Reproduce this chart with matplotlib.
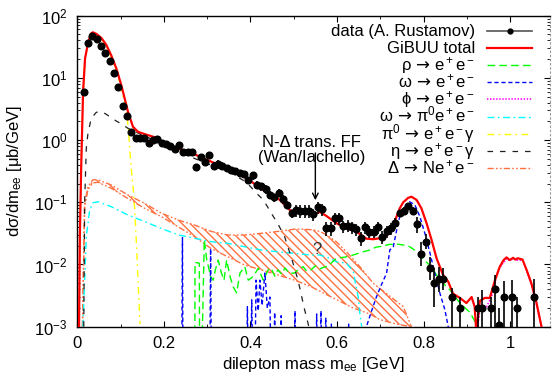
import matplotlib
matplotlib.use("Agg")
import matplotlib.pyplot as plt
import numpy as np
from matplotlib.lines import Line2D
from matplotlib.ticker import MultipleLocator, LogLocator, NullFormatter

plt.rcParams['font.family'] = ['Liberation Sans', 'DejaVu Sans']
plt.rcParams['mathtext.fontset'] = 'custom'
plt.rcParams['mathtext.rm'] = 'Liberation Sans'
plt.rcParams['mathtext.it'] = 'Liberation Sans:italic'
plt.rcParams['mathtext.bf'] = 'Liberation Sans:bold'
plt.rcParams['mathtext.sf'] = 'DejaVu Sans'
plt.rcParams['lines.scale_dashes'] = False
plt.rcParams['hatch.linewidth'] = 1.0

OFF = 1e-5  # below the plotted range: draws a drop to the axis

# ---- HADES C+C data (A. Rustamov) ----
data_m = [0.015, 0.025, 0.035, 0.045, 0.055, 0.065, 0.075, 0.085, 0.095, 0.105,
          0.115, 0.125, 0.135, 0.145, 0.155, 0.165, 0.175, 0.185, 0.195, 0.205,
          0.215, 0.225, 0.235, 0.245, 0.255, 0.265, 0.275, 0.285, 0.295, 0.305,
          0.315, 0.325, 0.335, 0.345, 0.355, 0.365, 0.375, 0.385, 0.395, 0.405,
          0.415, 0.425, 0.435, 0.445, 0.455, 0.465, 0.475, 0.485, 0.495, 0.505,
          0.515, 0.525, 0.535, 0.545, 0.555, 0.565, 0.575, 0.585, 0.595, 0.605,
          0.615, 0.625, 0.635, 0.645, 0.655, 0.665, 0.675, 0.685, 0.695, 0.705,
          0.715, 0.725, 0.735, 0.745, 0.755, 0.765, 0.775, 0.785, 0.795, 0.805,
          0.815, 0.825, 0.835, 0.845, 0.865, 0.885, 0.925, 0.935, 0.955, 0.965,
          0.975, 0.985, 1.005, 1.015, 1.055]
data_xs = [5.9, 37.0, 47.7, 41.7, 33.0, 24.8, 18.7, 12.0, 7.1, 3.57,
           2.41, 1.36, 1.09, 1.10, 1.09, 0.89, 1.0, 1.03, 0.90, 0.86,
           0.80, 0.72, 0.84, 0.65, 0.65, 0.65, 0.37, 0.54, 0.45, 0.575,
           0.39, 0.42, 0.39, 0.36, 0.33, 0.32, 0.30, 0.285, 0.23, 0.27,
           0.19, 0.18, 0.162, 0.131, 0.12, 0.143, 0.112, 0.0905, 0.0665, 0.075,
           0.073, 0.073, 0.073, 0.065, 0.083, 0.078, 0.038, 0.038, 0.055, 0.055,
           0.041, 0.042, 0.040, 0.037, 0.0267, 0.040, 0.0337, 0.0337, 0.040, 0.028,
           0.034, 0.038, 0.046, 0.0665, 0.073, 0.087, 0.073, 0.045, 0.0148, 0.023,
           0.0088, 0.005, 0.0059, 0.0059, 0.003, 0.002, 0.002, 0.002, 0.002, 0.004,
           0.00105, 0.003, 0.003, 0.002, 0.003]
# relative errors (lower / upper)
data_rel_lo = [0.03, 0.03, 0.03, 0.03, 0.03, 0.03, 0.03, 0.03, 0.03, 0.03,
               0.03, 0.03, 0.07, 0.07, 0.07, 0.07, 0.07, 0.07, 0.07, 0.07,
               0.07, 0.07, 0.07, 0.07, 0.07, 0.07, 0.12, 0.12, 0.12, 0.12,
               0.12, 0.12, 0.12, 0.12, 0.12, 0.12, 0.12, 0.12, 0.12, 0.15,
               0.15, 0.15, 0.15, 0.15, 0.15, 0.15, 0.15, 0.15, 0.15, 0.22,
               0.22, 0.22, 0.22, 0.22, 0.22, 0.22, 0.25, 0.25, 0.22, 0.22,
               0.22, 0.22, 0.22, 0.22, 0.25, 0.22, 0.22, 0.22, 0.22, 0.25,
               0.22, 0.22, 0.2, 0.13, 0.13, 0.13, 0.13, 0.28, 0.37, 0.24,
               0.36, 0.59, 0.38, 0.34, 1.0, 1.0, 1.0, 1.0, 1.0, 1.0,
               1.0, 1.0, 1.0, 1.0, 1.0]
data_rel_hi = [0.03, 0.03, 0.03, 0.03, 0.03, 0.03, 0.03, 0.03, 0.03, 0.03,
               0.03, 0.03, 0.07, 0.07, 0.07, 0.07, 0.07, 0.07, 0.07, 0.07,
               0.07, 0.07, 0.07, 0.07, 0.07, 0.07, 0.12, 0.12, 0.12, 0.12,
               0.12, 0.12, 0.12, 0.12, 0.12, 0.12, 0.12, 0.12, 0.12, 0.15,
               0.15, 0.15, 0.15, 0.15, 0.15, 0.15, 0.15, 0.15, 0.15, 0.22,
               0.22, 0.22, 0.22, 0.22, 0.22, 0.22, 0.25, 0.25, 0.22, 0.22,
               0.22, 0.22, 0.22, 0.22, 0.25, 0.22, 0.22, 0.22, 0.22, 0.25,
               0.22, 0.22, 0.2, 0.13, 0.13, 0.13, 0.13, 0.28, 0.58, 0.32,
               0.52, 0.74, 0.56, 0.47, 0.40, 0.52, 0.52, 0.95, 0.52, 0.70,
               0.9, 0.78, 0.87, 0.52, 0.93]

# ---- GiBUU total ----
tot_m = [0.004, 0.006, 0.009, 0.0134, 0.018, 0.025, 0.032, 0.036, 0.044, 0.0555,
         0.067, 0.0785, 0.090, 0.1016, 0.1094, 0.117, 0.1286, 0.140, 0.1556, 0.179,
         0.2018, 0.2326, 0.271, 0.3095, 0.348, 0.391, 0.4296, 0.468, 0.491, 0.507,
         0.53, 0.545, 0.5605, 0.576, 0.599, 0.622, 0.645, 0.668, 0.684, 0.707,
         0.722, 0.730, 0.738, 0.745, 0.753, 0.7645, 0.772, 0.784, 0.795, 0.807,
         0.8185, 0.830, 0.845, 0.857, 0.868, 0.884, 0.899, 0.911, 0.918, 0.922,
         0.93, 0.9415, 0.953, 0.965, 0.976, 0.985, 0.9917, 0.999, 1.007, 1.012,
         1.018, 1.0286, 1.038, 1.049, 1.061, 1.0725]
tot_xs = [0.001, 0.03, 0.36, 6.0, 20.6, 37.0, 52.0, 54.0, 51.0, 44.0,
          34.0, 23.0, 14.3, 7.7, 4.7, 2.87, 1.64, 1.36, 1.25, 1.11,
          0.91, 0.74, 0.59, 0.45, 0.35, 0.243, 0.158, 0.109, 0.075, 0.068,
          0.065, 0.063, 0.070, 0.060, 0.046, 0.038, 0.0337, 0.026, 0.0255, 0.027,
          0.032, 0.042, 0.060, 0.080, 0.100, 0.118, 0.123, 0.109, 0.080, 0.046,
          0.0248, 0.0126, 0.0068, 0.0053, 0.0034, 0.0029, 0.0024, 0.003, 0.0021, 0.0008,
          0.0026, 0.0029, 0.0029, 0.0056, 0.0092, 0.0118, 0.0130, 0.0118, 0.0128, 0.0120,
          0.0126, 0.0120, 0.0082, 0.005, 0.0024, 0.001]

# ---- rho -> e+e- ----
rho_m = [0.271, 0.272, 0.282, 0.283, 0.2935, 0.299, 0.303, 0.308, 0.314, 0.319,
         0.3256, 0.333, 0.339, 0.345, 0.353, 0.36, 0.368, 0.376, 0.387, 0.395,
         0.4065, 0.418, 0.4296, 0.441, 0.448, 0.456, 0.4635, 0.472, 0.48, 0.49,
         0.502, 0.512, 0.522, 0.53, 0.54, 0.55, 0.56, 0.579, 0.599, 0.62,
         0.6375, 0.66, 0.676, 0.69, 0.707, 0.72, 0.738, 0.755, 0.768, 0.785,
         0.799, 0.815, 0.83, 0.845, 0.861, 0.884, 0.907, 0.922, 0.925]
rho_xs = [OFF, 0.0108, 0.0105, OFF, 0.025, 0.012, 0.0092, 0.0064, 0.0056, 0.0082,
          0.0118, 0.0073, 0.0056, 0.0118, 0.0064, 0.0044, 0.0035, 0.0073, 0.0092, 0.0056,
          0.0064, 0.0087, 0.0056, 0.0082, 0.0087, 0.0065, 0.0082, 0.0070, 0.0088, 0.0072,
          0.0073, 0.0085, 0.0092, 0.0078, 0.0082, 0.0095, 0.0085, 0.0095, 0.0126, 0.0132,
          0.0142, 0.016, 0.0171, 0.019, 0.0198, 0.021, 0.0213, 0.0205, 0.0193, 0.016,
          0.0125, 0.0095, 0.0068, 0.005, 0.0039, 0.0024, 0.0017, 0.0011, OFF]

# ---- omega -> e+e- ----
omg_m = [0.240, 0.243, 0.245, 0.305, 0.308, 0.311, 0.389, 0.393, 0.398, 0.403,
         0.408, 0.413, 0.418, 0.422, 0.427, 0.4335, 0.439, 0.445, 0.450, 0.456,
         0.462, 0.471, 0.478, 0.498, 0.503, 0.508, 0.548, 0.553, 0.558, 0.563,
         0.568, 0.574, 0.582, 0.587, 0.592, 0.622, 0.627, 0.632, 0.668, 0.68,
         0.691, 0.703, 0.7145, 0.722, 0.73, 0.738, 0.745, 0.757, 0.768, 0.78,
         0.7915, 0.803, 0.815, 0.826, 0.838, 0.849, 0.857, 0.862]
omg_xs = [OFF, 0.027, OFF, OFF, 0.018, OFF, OFF, 0.0021, OFF, 0.0027,
          OFF, 0.0056, 0.0018, 0.0056, 0.0022, 0.0073, 0.0020, 0.003, OFF, 0.0017,
          OFF, 0.0015, OFF, OFF, 0.0018, OFF, OFF, 0.0016, OFF, 0.0018,
          OFF, 0.0014, OFF, 0.0011, OFF, OFF, 0.0011, OFF, 0.001, 0.0018,
          0.003, 0.0048, 0.0072, 0.0171, 0.0193, 0.036, 0.0588, 0.085, 0.102, 0.0905,
          0.0588, 0.0317, 0.0151, 0.0072, 0.0034, 0.0019, 0.001, OFF]

# ---- phi -> e+e- ----
phi_m = [0.925, 0.93, 0.9455, 0.957, 0.965, 0.976, 0.9917, 0.999, 1.007, 1.018,
         1.0286, 1.038, 1.049, 1.061, 1.0725]
phi_xs = [0.001, 0.0019, 0.0021, 0.003, 0.0053, 0.009, 0.0124, 0.0116, 0.0124, 0.0116,
          0.0118, 0.008, 0.0049, 0.0023, 0.001]

# ---- omega -> pi0 e+e- ----
opi_m = [0.013, 0.0208, 0.0286, 0.036, 0.048, 0.0785, 0.117, 0.1556, 0.194, 0.2326,
         0.271, 0.3095, 0.348, 0.3866, 0.425, 0.4635, 0.502, 0.54, 0.56, 0.584,
         0.599, 0.622, 0.6375, 0.649, 0.653, 0.657]
opi_xs = [0.001, 0.028, 0.075, 0.098, 0.102, 0.085, 0.0625, 0.049, 0.038, 0.030,
          0.0264, 0.0233, 0.0219, 0.0193, 0.0171, 0.016, 0.0151, 0.0142, 0.0142, 0.0126,
          0.011, 0.0105, 0.0077, 0.003, 0.0016, 0.001]

# ---- pi0 -> e+e-gamma ----
pi0_m = [0.004, 0.006, 0.009, 0.0134, 0.018, 0.025, 0.032, 0.036, 0.044, 0.0555,
         0.067, 0.0785, 0.090, 0.098, 0.1094, 0.1155, 0.1187, 0.121, 0.125, 0.129,
         0.133, 0.137, 0.141, 0.1447]
pi0_xs = [0.001, 0.029, 0.35, 5.8, 20.0, 36.0, 50.5, 52.5, 49.5, 42.5,
          32.5, 21.5, 13.0, 7.7, 4.1, 2.24, 1.36, 0.74, 0.33, 0.17,
          0.07, 0.019, 0.0044, 0.0011]

# ---- eta -> e+e-gamma ----
eta_m = [0.015, 0.017, 0.0208, 0.0247, 0.0323, 0.044, 0.0555, 0.067, 0.0785, 0.090,
         0.1016, 0.117, 0.14, 0.17, 0.2, 0.25, 0.3, 0.357, 0.391, 0.414,
         0.43, 0.453, 0.4635, 0.479, 0.494, 0.51, 0.525, 0.535]
eta_xs = [0.001, 0.1, 0.74, 1.29, 2.24, 2.8, 2.87, 2.6, 2.29, 2.03,
          1.82, 1.55, 1.3, 1.05, 0.82, 0.58, 0.42, 0.29, 0.21, 0.14,
          0.109, 0.059, 0.045, 0.028, 0.0133, 0.0056, 0.0019, 0.001]

# ---- Delta -> N e+e- : band from two form-factor choices ----
dhi_m = [0.012, 0.017, 0.0247, 0.036, 0.048, 0.0785, 0.117, 0.1556, 0.194, 0.2326,
         0.271, 0.3095, 0.348, 0.3866, 0.425, 0.4635, 0.502, 0.522, 0.545, 0.56,
         0.576, 0.599, 0.622, 0.653, 0.6836, 0.7145, 0.753, 0.772]
dhi_xs = [0.001, 0.096, 0.178, 0.23, 0.23, 0.19, 0.131, 0.096, 0.067, 0.052,
          0.043, 0.034, 0.0298, 0.0298, 0.0317, 0.034, 0.037, 0.037, 0.036, 0.034,
          0.030, 0.023, 0.016, 0.0092, 0.005, 0.0034, 0.0021, 0.001]
dlo_m = [0.012, 0.017, 0.0247, 0.036, 0.048, 0.0785, 0.117, 0.1556, 0.194, 0.2326,
         0.271, 0.3095, 0.348, 0.3866, 0.425, 0.4635, 0.502, 0.54, 0.579, 0.6375,
         0.676, 0.699, 0.738, 0.772]
dlo_xs = [0.001, 0.085, 0.16, 0.205, 0.21, 0.168, 0.115, 0.08, 0.059, 0.0405,
          0.028, 0.018, 0.0133, 0.0098, 0.0082, 0.0068, 0.0056, 0.0044, 0.0032, 0.002,
          0.0016, 0.0013, 0.0011, 0.001]

x_ticks = [0, 0.2, 0.4, 0.6, 0.8, 1]
x_ticklabels = ['0', '0.2', '0.4', '0.6', '0.8', '1']

C_RED = '#ff0000'
C_GREEN = '#00ff00'
C_BLUE = '#0000ff'
C_MAG = '#ff00ff'
C_CYAN = '#00ffff'
C_YEL = '#ffff00'
C_ETA = '#202020'
C_DEL = '#ff7040'

fig = plt.figure(figsize=(5.52, 3.79), dpi=100)
ax = fig.add_axes([0.1400, 0.1380, 0.8563, 0.8206])
ax.set_yscale('log')
ax.set_xlim(0, 1.092)
ax.set_ylim(1e-3, 1e2)

# Delta band: hatched polygon between the two curves
band_x = np.concatenate([dhi_m, dlo_m[::-1]])
band_y = np.concatenate([dhi_xs, dlo_xs[::-1]])
ax.fill(band_x, band_y, facecolor='none', edgecolor=C_DEL, hatch='\\\\\\\\',
        linewidth=0, zorder=1)
dd = (0, (4.5, 1.6, 1.2, 1.6, 1.2, 1.6))
ax.plot(dhi_m, dhi_xs, color=C_DEL, lw=1.0, linestyle=dd, zorder=2)
ax.plot(dlo_m, dlo_xs, color=C_DEL, lw=1.0, linestyle=dd, zorder=2)

ax.plot(opi_m, opi_xs, color=C_CYAN, lw=1.0, linestyle=(0, (5, 2.5, 1.2, 2.5)), zorder=3)
ax.plot(rho_m, rho_xs, color=C_GREEN, lw=1.0, linestyle=(0, (5.5, 3)), zorder=3)
ax.plot(omg_m, omg_xs, color=C_BLUE, lw=1.0, linestyle=(0, (3, 2)), zorder=3)
ax.plot(phi_m, phi_xs, color=C_MAG, lw=1.2, linestyle=(0, (1, 1.2)), zorder=3)
ax.plot(eta_m, eta_xs, color=C_ETA, lw=0.9, linestyle=(0, (4, 5)), zorder=3)
ax.plot(pi0_m, pi0_xs, color=C_YEL, lw=1.0, linestyle=(0, (5, 3, 1.2, 3)), zorder=3)
ax.plot(tot_m, tot_xs, color=C_RED, lw=1.6, zorder=4)

ys = np.array(data_xs)
err = [ys * np.array(data_rel_lo), ys * np.array(data_rel_hi)]
ax.errorbar(data_m, data_xs, yerr=err, fmt='o', color='black', ms=4.8,
            elinewidth=1.2, capsize=0, zorder=5)

# annotation for the transition form factor
ax.text(0.542, 0.78, 'N-Δ trans. FF', ha='center', va='baseline', fontsize=12)
ax.text(0.542, 0.44, '(Wan/Iachello)', ha='center', va='baseline', fontsize=12)
ax.annotate('', xy=(0.550, 0.108), xytext=(0.550, 0.62),
            arrowprops=dict(arrowstyle='->', color='black', lw=1.0,
                            shrinkA=0, shrinkB=0))
ax.text(0.553, 0.0175, '?', ha='center', va='center', fontsize=12, color='#333333')

# axes styling
ax.set_xticks(x_ticks)
ax.set_xticklabels(x_ticklabels)
ax.xaxis.set_minor_locator(MultipleLocator(0.1))
ax.yaxis.set_major_locator(LogLocator(base=10, numticks=10))
ax.yaxis.set_minor_locator(LogLocator(base=10, subs=np.arange(2, 10), numticks=20))
ax.yaxis.set_minor_formatter(NullFormatter())
ax.tick_params(which='both', direction='in', top=True, right=True, labelsize=12)
ax.tick_params(which='major', length=4.5, width=0.8)
ax.tick_params(which='minor', length=2.2, width=0.6)
ax.tick_params(axis='x', which='both', pad=7)
ax.tick_params(axis='y', which='both', pad=7)
for t in ax.yaxis.get_ticklines(minor=False)[1::2]:
    t.set_color('#888888')
for t in ax.yaxis.get_ticklines(minor=True)[1::2]:
    t.set_color('#888888')
ax.spines['right'].set_color('#999999')
ax.spines['right'].set_linestyle((0, (1, 2)))
for s in ('left', 'top', 'bottom'):
    ax.spines[s].set_linewidth(1.0)

ax.set_xlabel('dilepton mass m$_{\\mathrm{ee}}$ [GeV]', fontsize=12)
ax.set_ylabel('dσ/dm$_{\\mathrm{ee}}$ [μb/GeV]', fontsize=12)
ax.xaxis.set_label_coords(0.5, -0.090)
ax.yaxis.set_label_coords(-0.112, 0.5)

# key, drawn in axes coordinates
ARW = '$\\,\\mathsf{\\rightarrow}\\,$'
labels = ['data (A. Rustamov)', 'GiBUU total',
          'ρ' + ARW + 'e$^+$e$^-$',
          'ω' + ARW + 'e$^+$e$^-$',
          'ϕ' + ARW + 'e$^+$e$^-$',
          'ω' + ARW + 'π$^0$e$^+$e$^-$',
          'π$^0$' + ARW + 'e$^+$e$^-$γ',
          'η' + ARW + 'e$^+$e$^-$γ',
          'Δ' + ARW + 'Ne$^+$e$^-$']
styles = [dict(color='#555555', lw=1.2, ls='-'),
          dict(color=C_RED, lw=1.6, ls='-'),
          dict(color=C_GREEN, lw=1.0, ls=(0, (5.5, 3))),
          dict(color=C_BLUE, lw=1.0, ls=(0, (3, 2))),
          dict(color=C_MAG, lw=1.2, ls=(0, (1, 1.2))),
          dict(color=C_CYAN, lw=1.0, ls=(0, (5, 2.5, 1.2, 2.5))),
          dict(color=C_YEL, lw=1.0, ls=(0, (5, 3, 1.2, 3))),
          dict(color=C_ETA, lw=0.9, ls=(0, (4, 5))),
          dict(color=C_DEL, lw=1.0, ls=dd)]
row0, step = 0.9518, 0.0552
for i, (lab, st) in enumerate(zip(labels, styles)):
    yr = row0 - i * step
    ax.text(0.841, yr - 0.017, lab, transform=ax.transAxes, ha='right',
            va='baseline', fontsize=12)
    ax.add_line(Line2D([0.866, 0.963], [yr, yr], transform=ax.transAxes,
                       color=st['color'], lw=st['lw'], linestyle=st['ls']))
ax.add_line(Line2D([0.9145], [row0], transform=ax.transAxes, marker='o',
                   ms=3.5, color='black'))

fig.savefig('out.png', dpi=100)
